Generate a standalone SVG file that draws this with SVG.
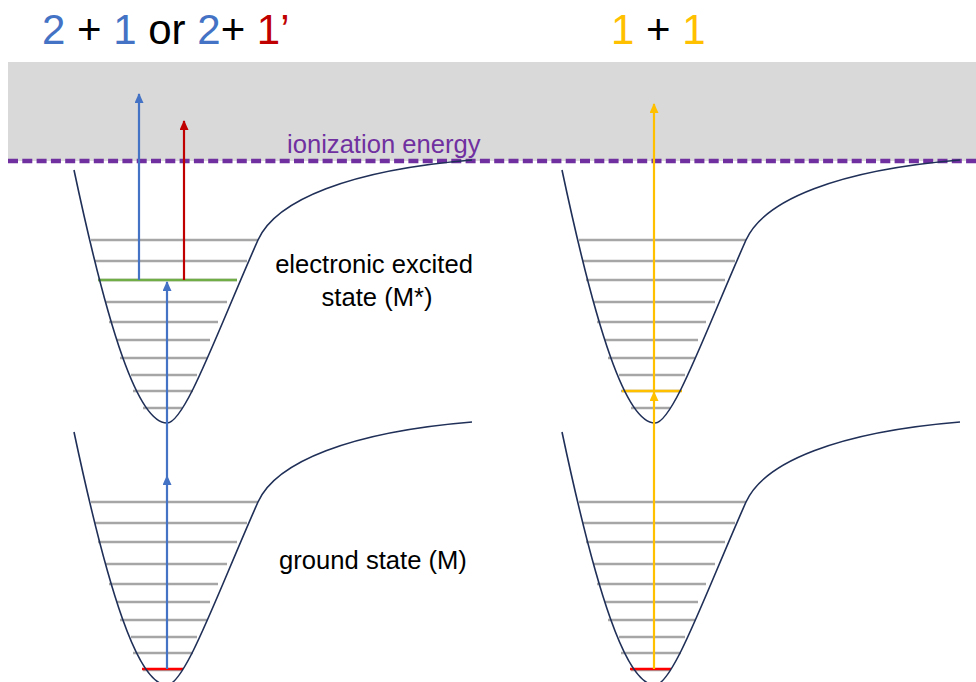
<svg xmlns="http://www.w3.org/2000/svg" xmlns:xlink="http://www.w3.org/1999/xlink" width="976" height="682" viewBox="0 0 976 682">
<style>
  .pes{fill:none;stroke:#1F2F57;stroke-width:1.6}
  .lv{stroke:#A6A6A6;stroke-width:2.6}
  .green{stroke:#70AD47;stroke-width:2.6}
  .red{stroke:#FF0000;stroke-width:2.6}
  .yel{stroke:#FFC000;stroke-width:2.6}
  .lbl{font-family:"Liberation Sans",Arial,sans-serif;font-size:25.6px;fill:#000}
  .title{font-family:"Liberation Sans",Arial,sans-serif;font-size:42px}
  .ab{stroke:#4472C4;stroke-width:2.2;fill:none}
  .ar{stroke:#C00000;stroke-width:2.2;fill:none}
  .ay{stroke:#FFC000;stroke-width:2.2;fill:none}
</style>
<defs>
  <marker id="mb" markerUnits="userSpaceOnUse" markerWidth="10" markerHeight="10" refX="9" refY="4.5" orient="auto"><path d="M0,0 L10,4.5 L0,9 z" fill="#4472C4"/></marker>
  <marker id="mr" markerUnits="userSpaceOnUse" markerWidth="10" markerHeight="10" refX="9" refY="4.5" orient="auto"><path d="M0,0 L10,4.5 L0,9 z" fill="#C00000"/></marker>
  <marker id="my" markerUnits="userSpaceOnUse" markerWidth="10" markerHeight="10" refX="9" refY="4.5" orient="auto"><path d="M0,0 L10,4.5 L0,9 z" fill="#FFC000"/></marker>
  <path id="curve" class="pes" d="M74,170 C108,330 138,423 167,423 C185,423 218,330 258,240 C276,200 350,170 472,160"/>
  <g id="levels">
    <line class="lv" x1="91" y1="240" x2="258" y2="240"/>
    <line class="lv" x1="95" y1="261" x2="247" y2="261"/>
    <line class="lv" x1="98" y1="280" x2="237" y2="280"/>
    <line class="lv" x1="106" y1="302" x2="227" y2="302"/>
    <line class="lv" x1="109" y1="322" x2="218" y2="322"/>
    <line class="lv" x1="117" y1="340" x2="210" y2="340"/>
    <line class="lv" x1="120" y1="358" x2="207" y2="358"/>
    <line class="lv" x1="131" y1="375" x2="197" y2="375"/>
    <line class="lv" x1="133" y1="391" x2="193" y2="391"/>
    <line class="lv" x1="143" y1="408" x2="182" y2="408"/>
  </g>
</defs>

<g id="continuum">
  <rect x="8" y="62" width="968" height="99" fill="#D9D9D9"/>
  <line x1="8" y1="161" x2="976" y2="161" stroke="#7030A0" stroke-width="4.5" stroke-dasharray="10,4.3"/>
  <text x="287" y="153" font-family="Liberation Sans, Arial, sans-serif" font-size="25.6" fill="#7030A0">ionization energy</text>
</g>

<g id="title-left">
  <text class="title" x="42" y="44"><tspan fill="#4472C4">2</tspan><tspan fill="#000"> + </tspan><tspan fill="#4472C4">1</tspan><tspan fill="#000"> or </tspan><tspan fill="#4472C4">2</tspan><tspan fill="#000">+ </tspan><tspan fill="#C00000">1’</tspan></text>
</g>
<g id="title-right">
  <text class="title" x="611" y="44"><tspan fill="#FFC000">1</tspan><tspan fill="#000"> + </tspan><tspan fill="#FFC000">1</tspan></text>
</g>

<g id="excited-left">
  <use xlink:href="#levels"/>
  <line class="green" x1="98" y1="280" x2="237" y2="280"/>
  <use xlink:href="#curve"/>
</g>
<g id="ground-left">
  <use xlink:href="#levels" transform="translate(0,262)"/>
  <line class="red" x1="142" y1="669" x2="183" y2="669"/>
  <use xlink:href="#curve" transform="translate(0,262)"/>
</g>
<g id="excited-right">
  <use xlink:href="#levels" transform="translate(488,0)"/>
  <line class="yel" x1="622" y1="391" x2="682" y2="391"/>
  <use xlink:href="#curve" transform="translate(488,0)"/>
</g>
<g id="ground-right">
  <use xlink:href="#levels" transform="translate(488,262)"/>
  <line class="red" x1="630" y1="669" x2="671" y2="669"/>
  <use xlink:href="#curve" transform="translate(488,262)"/>
</g>

<g id="label-excited">
  <text class="lbl" x="374" y="273" text-anchor="middle">electronic excited</text>
  <text class="lbl" x="377" y="306" text-anchor="middle">state (M*)</text>
</g>
<g id="label-ground">
  <text class="lbl" x="373" y="569" text-anchor="middle">ground state (M)</text>
</g>

<g id="connectors">
  <line class="ab" x1="139" y1="280" x2="139" y2="94" marker-end="url(#mb)"/>
  <line class="ar" x1="184" y1="280" x2="184" y2="121" marker-end="url(#mr)"/>
  <line class="ab" x1="167" y1="669" x2="167" y2="476" marker-end="url(#mb)"/>
  <line class="ab" x1="167" y1="476" x2="167" y2="282" marker-end="url(#mb)"/>
  <line class="ay" x1="654" y1="669" x2="654" y2="392" marker-end="url(#my)"/>
  <line class="ay" x1="654" y1="392" x2="654" y2="104" marker-end="url(#my)"/>
</g>
</svg>
